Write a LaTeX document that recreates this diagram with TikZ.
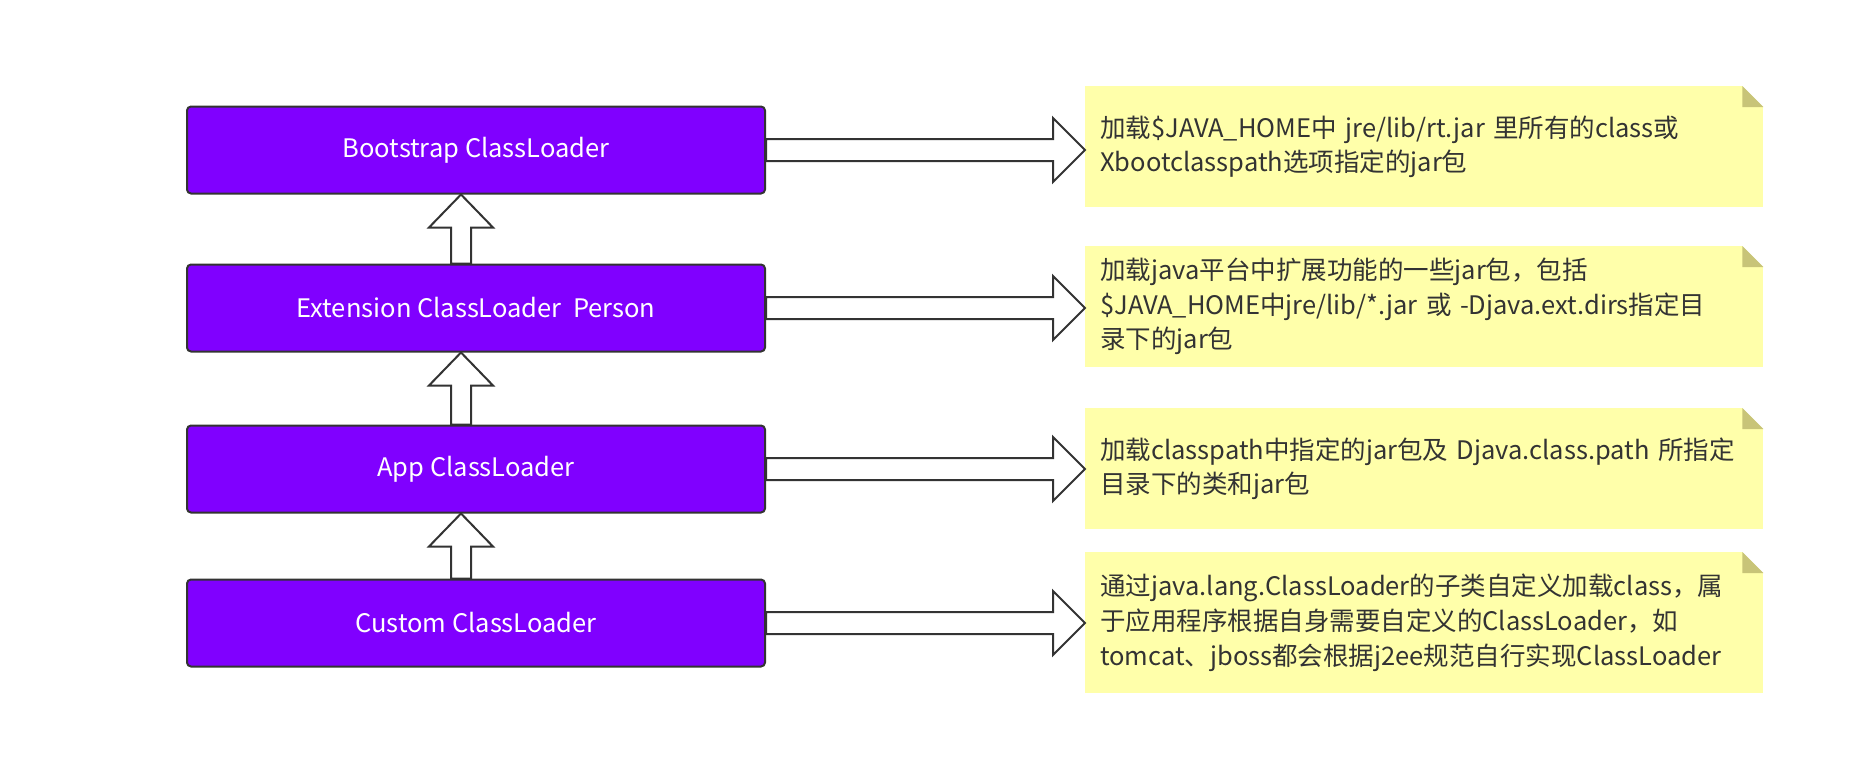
\documentclass[tikz,border=0pt]{standalone}
\usepackage{fontspec}
\setmainfont{Noto Sans CJK SC}
\usepackage{tikz}
\usetikzlibrary{calc}

\definecolor{loaderfill}{RGB}{128,0,255}
\definecolor{edgegray}{RGB}{51,51,51}
\definecolor{notefill}{RGB}{255,255,170}
\definecolor{notefold}{RGB}{200,196,120}

\tikzset{
  loader/.style={draw=edgegray, line width=2pt, fill=loaderfill, rounded corners=4pt,
    minimum width=578pt, minimum height=87pt, text=white, font=\fontsize{25.5}{30}\selectfont},
  notebox/.style={fill=notefill, anchor=north west, minimum width=678pt, inner xsep=15pt,
    text width=648pt, align=left, text=edgegray, font=\fontsize{25.5}{34.6}\selectfont},
  blockarrow/.style={draw=edgegray, line width=2pt, fill=white, line join=miter}
}

\newcommand\sidearrow[2]{%
  \draw[blockarrow] let \p1=(#1.east), \p2=(#1.east -| #2.west) in
    (\x1,\y1+11pt) -- (\x2-32pt,\y1+11pt) -- (\x2-32pt,\y1+32pt) -- (\x2,\y1)
    -- (\x2-32pt,\y1-32pt) -- (\x2-32pt,\y1-11pt) -- (\x1,\y1-11pt) -- cycle;}
\newcommand\climbarrow[2]{%
  \draw[blockarrow] let \p1=([xshift=-15pt]#1.north), \p2=(#2.south) in
    (\x1-10pt,\y1) -- (\x1-10pt,\y2-33pt) -- (\x1-32pt,\y2-33pt) -- (\x1,\y2)
    -- (\x1+32pt,\y2-33pt) -- (\x1+10pt,\y2-33pt) -- (\x1+10pt,\y1) -- cycle;}
\newcommand\notefold[1]{%
  \fill[white] ([xshift=-21pt]#1.north east) -- (#1.north east) -- ([yshift=-21pt]#1.north east) -- cycle;
  \fill[notefold] ([xshift=-21pt]#1.north east) -- ([xshift=-21pt,yshift=-21pt]#1.north east)
    -- ([yshift=-21pt]#1.north east) -- cycle;}

\begin{document}
\begin{tikzpicture}[x=1pt, y=-1pt]
    \useasboundingbox[fill=white] (0,0) rectangle (1872,758);

    \node[loader] (boot)   at (476,150) {Bootstrap ClassLoader};
    \node[loader] (ext)    at (476,308) {Extension ClassLoader\ \ Person};
    \node[loader] (app)    at (476,469) {App ClassLoader};
    \node[loader] (custom) at (476,623) {Custom ClassLoader};

    \node[notebox, minimum height=121pt] (bootnote) at (1085,86)
      {加载\$JAVA\_HOME中 jre/lib/rt.jar 里所有的class或\\Xbootclasspath选项指定的jar包};
    \node[notebox, minimum height=121pt] (extnote) at (1085,246)
      {加载java平台中扩展功能的一些jar包，包括\\\$JAVA\_HOME中jre/lib/*.jar 或 -Djava.ext.dirs指定目\\录下的jar包};
    \node[notebox, minimum height=121pt] (appnote) at (1085,408)
      {加载classpath中指定的jar包及 Djava.class.path 所指定\\目录下的类和jar包};
    \node[notebox, minimum height=141pt] (customnote) at (1085,552)
      {通过java.lang.ClassLoader的子类自定义加载class，属\\于应用程序根据自身需要自定义的ClassLoader，如\\tomcat、jboss都会根据j2ee规范自行实现ClassLoader};
    \notefold{bootnote}
    \notefold{extnote}
    \notefold{appnote}
    \notefold{customnote}

    \climbarrow{ext}{boot}
    \climbarrow{app}{ext}
    \climbarrow{custom}{app}

    \sidearrow{boot}{bootnote}
    \sidearrow{ext}{extnote}
    \sidearrow{app}{appnote}
    \sidearrow{custom}{customnote}
\end{tikzpicture}
\end{document}
